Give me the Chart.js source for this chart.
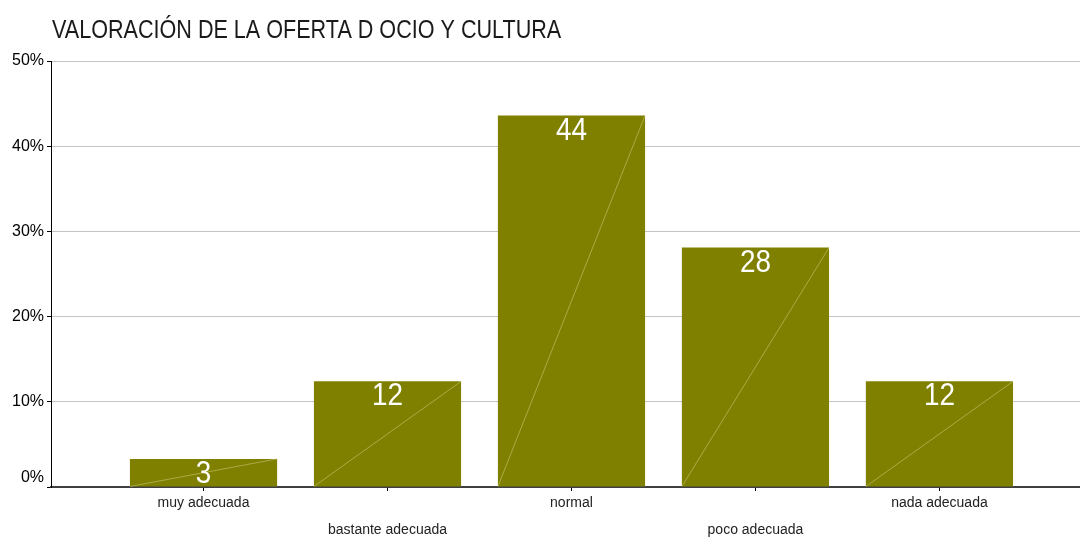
<!DOCTYPE html>
<html>
<head>
<meta charset="utf-8">
<script src="https://cdn.jsdelivr.net/npm/chart.js@4.4.1/dist/chart.umd.min.js"></script>
<style>
  html, body { margin: 0; padding: 0; background: #ffffff; }
  #wrap { width: 1080px; height: 538px; }
</style>
</head>
<body>
<div id="wrap"><canvas id="c" width="1080" height="538"></canvas></div>
<script>
const chartTitle = 'VALORACIÓN DE LA OFERTA D OCIO Y CULTURA';
const categories = ['muy adecuada', 'bastante adecuada', 'normal', 'poco adecuada', 'nada adecuada'];
const values = [3.3, 12.4, 43.6, 28.1, 12.4];
const valueLabels = ['3', '12', '44', '28', '12'];
const yTickValues = [0, 10, 20, 30, 40, 50];

const FONT = "'Liberation Sans', Arial, sans-serif";
const BAR_COLOR = '#808000';

const titlePlugin = {
  id: 'leftTitle',
  afterDraw(chart) {
    const ctx = chart.ctx;
    ctx.save();
    ctx.font = '26px ' + FONT;
    ctx.fillStyle = '#1a1a1a';
    ctx.textAlign = 'left';
    ctx.textBaseline = 'alphabetic';
    ctx.translate(52, 38);
    ctx.scale(0.83, 1);
    ctx.fillText(chartTitle, 0, 0);
    ctx.restore();
  }
};

const barDecor = {
  id: 'barDecor',
  afterDatasetsDraw(chart) {
    const ctx = chart.ctx;
    const meta = chart.getDatasetMeta(0);
    ctx.save();
    meta.data.forEach((bar) => {
      const p = bar.getProps(['x', 'y', 'base', 'width'], true);
      const l = p.x - p.width / 2, r = p.x + p.width / 2;
      ctx.beginPath();
      ctx.moveTo(l, p.base);
      ctx.lineTo(r, p.y);
      ctx.strokeStyle = 'rgba(225,225,160,0.55)';
      ctx.lineWidth = 0.8;
      ctx.stroke();
    });
    ctx.font = '31px ' + FONT;
    ctx.fillStyle = '#ffffff';
    ctx.textAlign = 'center';
    ctx.textBaseline = 'alphabetic';
    meta.data.forEach((bar, i) => {
      const p = bar.getProps(['x', 'y'], true);
      ctx.save();
      ctx.translate(p.x, p.y + 24);
      ctx.scale(0.9, 1);
      ctx.fillText(valueLabels[i], 0, 0);
      ctx.restore();
    });
    ctx.restore();
  }
};

new Chart(document.getElementById('c'), {
  type: 'bar',
  data: {
    datasets: [{
      data: values.map((v, i) => ({ x: i, y: v })),
      backgroundColor: BAR_COLOR,
      borderWidth: 0,
      categoryPercentage: 1.0,
      barPercentage: 0.8
    }]
  },
  options: {
    responsive: false,
    animation: false,
    events: [],
    layout: { padding: { top: 61, left: 0, right: 0, bottom: 0 } },
    plugins: {
      legend: { display: false },
      title: { display: false },
      tooltip: { enabled: false }
    },
    scales: {
      x: {
        type: 'linear',
        offset: false,
        min: -0.829,
        max: 4.764,
        afterBuildTicks(scale) {
          scale.ticks = categories.map((_, i) => ({ value: i }));
        },
        afterFit(scale) { scale.height = 51; },
        grid: {
          display: true,
          offset: false,
          drawOnChartArea: false,
          drawTicks: true,
          tickLength: 4,
          color: '#000000',
          tickColor: '#000000'
        },
        border: { display: true, color: '#404040', width: 2 },
        ticks: {
          autoSkip: false,
          maxRotation: 0,
          minRotation: 0,
          padding: -1,
          color: '#222222',
          font: { family: FONT, size: 14, lineHeight: 1.9 },
          callback(value) {
            const i = Math.round(value);
            const name = categories[i];
            return i % 2 === 1 ? ['', name] : name;
          }
        }
      },
      y: {
        min: 0,
        max: 50,
        afterBuildTicks(scale) {
          scale.ticks = yTickValues.map(v => ({ value: v }));
        },
        afterFit(scale) { scale.width = 51; },
        grid: {
          color: '#c4c4c4',
          tickColor: '#000000',
          drawTicks: true,
          tickLength: 4,
          lineWidth: 1
        },
        border: { display: true, color: '#000000', width: 1 },
        ticks: {
          padding: 3,
          color: '#000000',
          font: { family: FONT, size: 16 },
          callback(value) { return value === 0 ? ['0%', ''] : value + '%'; }
        }
      }
    }
  },
  plugins: [titlePlugin, barDecor]
});
</script>
</body>
</html>
